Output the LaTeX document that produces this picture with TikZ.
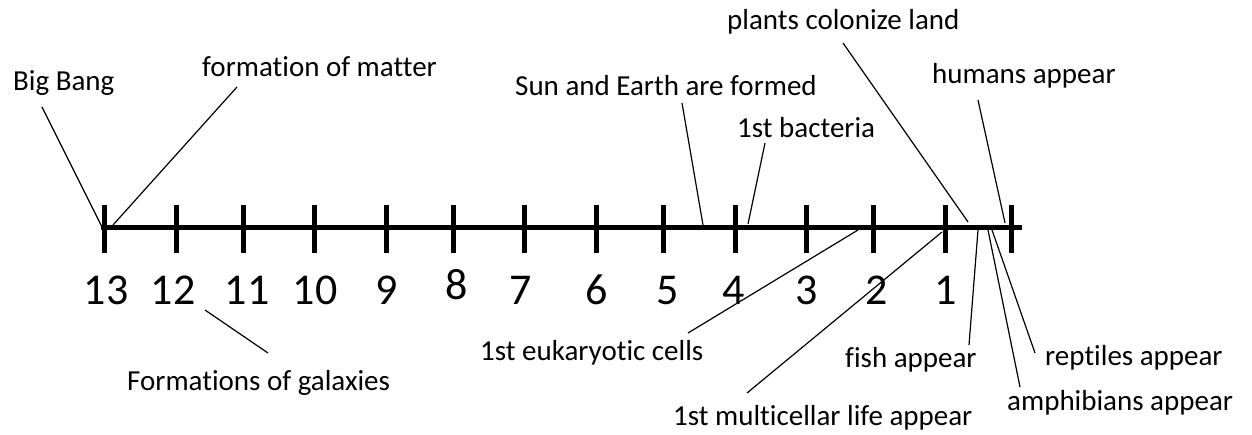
\documentclass[tikz,border=0pt]{standalone}
\usepackage{fontspec}
\setmainfont{Carlito}[Ligatures=NoCommon]
\begin{document}
\begin{tikzpicture}[x=1pt,y=-1pt,
  lbl/.style={anchor=west,inner sep=0pt,font=\fontsize{29}{34}\selectfont,text height=0.75em,text depth=0.25em,yshift=-6.5pt},
  num/.style={anchor=base,inner sep=0pt,font=\fontsize{44}{50}\selectfont},
  axisline/.style={line width=5pt},
  tickmark/.style={line width=5pt},
  conn/.style={line width=1.2pt}]
\useasboundingbox (0,0) rectangle (1252,435);
% axis
\coordinate (axL) at (101,228);
\coordinate (axR) at (1022,228);
\draw[axisline] (axL) -- (axR);
\foreach \x [count=\i] in {104,176,243,314,386,453,524,596,663,735,806,873,945,1011}
  \draw[tickmark] (\x,205) coordinate (t\i) -- (\x,253) coordinate (b\i);
% numbers
\node[num] (n13) at (106,305) {13};
\node[num] (n12) at (173,305) {12};
\node[num] (n11) at (247,305) {11};
\node[num] (n10) at (315,305) {10};
\node[num] (n9) at (387,305) {9};
\node[num] (n8) at (457,300) {8};
\node[num] (n7) at (521,305) {7};
\node[num] (n6) at (597,305) {6};
\node[num] (n5) at (668,305) {5};
\node[num] (n4) at (734,305) {4};
\node[num] (n3) at (807,305) {3};
\node[num] (n2) at (877,305) {2};
\node[num] (n1) at (946,305) {1};
% labels
\node[lbl] (bigbang) at (13,82) {Big Bang};
\node[lbl] (matter) at (202,68) {formation of matter};
\node[lbl] (sun) at (515,87) {Sun and Earth are formed};
\node[lbl] (bact) at (737,129) {1st bacteria};
\node[lbl] (plants) at (727,21) {plants colonize land};
\node[lbl] (humans) at (932,75) {humans appear};
\node[lbl] (rept) at (1045,356) {reptiles appear};
\node[lbl] (amph) at (1007,401) {amphibians appear};
\node[lbl] (fish) at (845,358) {fish appear};
\node[lbl] (multi) at (673,416) {1st multicellar life appear};
\node[lbl] (euk) at (480,351) {1st eukaryotic cells};
\node[lbl] (gal) at (127,381) {Formations of galaxies};
% connector ends
\coordinate (bigbangA) at (42,107);   \coordinate (bigbangB) at (102,227);
\coordinate (matterA) at (237,87);    \coordinate (matterB) at (113,225);
\coordinate (sunA) at (682,103);      \coordinate (sunB) at (703,225);
\coordinate (bactA) at (765,143);     \coordinate (bactB) at (748,224);
\coordinate (plantsA) at (843,43);    \coordinate (plantsB) at (968,222);
\coordinate (humansA) at (978,100);   \coordinate (humansB) at (1005,223);
\coordinate (reptA) at (1035,353);    \coordinate (reptB) at (992,230);
\coordinate (amphA) at (1020,387);    \coordinate (amphB) at (988,230);
\coordinate (fishA) at (969,345);     \coordinate (fishB) at (978,230);
\coordinate (multiA) at (747,393);    \coordinate (multiB) at (942,232);
\coordinate (eukA) at (688,333);      \coordinate (eukB) at (858,230);
\coordinate (galA) at (205,310);      \coordinate (galB) at (268,353);
\foreach \n in {bigbang,matter,sun,bact,plants,humans,rept,amph,fish,multi,euk,gal}
  \draw[conn] (\n A) -- (\n B);
\end{tikzpicture}
\end{document}
